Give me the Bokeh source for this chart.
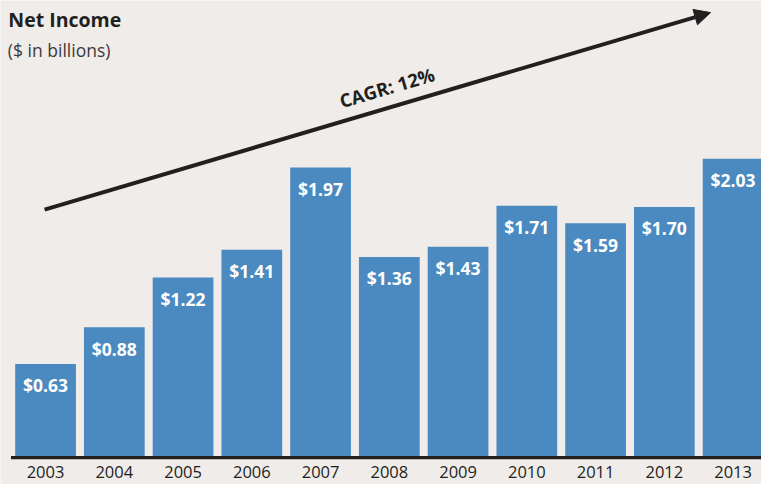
import math
from bokeh.plotting import figure
from bokeh.models import Range1d, Arrow, NormalHead, Label, ColumnDataSource
from bokeh.core.properties import value
from bokeh.embed import file_html
from bokeh.resources import INLINE

# ---- data ----
years = ["2003", "2004", "2005", "2006", "2007", "2008", "2009", "2010", "2011", "2012", "2013"]
net_income = [0.63, 0.88, 1.22, 1.41, 1.97, 1.36, 1.43, 1.71, 1.59, 1.70, 2.03]
value_labels = ["$%.2f" % v for v in net_income]
title_text = "Net Income"
subtitle_text = "($ in billions)"
cagr_text = "CAGR: 12%"

# ---- styles ----
BG = "#f0ece9"
BAR = "#4a8ac0"
DARK = "#231f20"
FONT = "Open Sans"

W, H = 761, 484
REF_W, REF_H = 777.0, 500.0

# reference-pixel helpers (bar pitch 70.2 px, 151.5 px per $1bn, baseline at y=471)
PX_PER_UNIT = 151.5

def dx(px):
    return (px - 46.0) / 70.2

def dy(py):
    return (471.0 - py) / PX_PER_UNIT

idx = list(range(len(years)))
src = ColumnDataSource(dict(
    x=idx, top=net_income, year=years, lab=value_labels,
    lab_y=[v - 22.0 / PX_PER_UNIT for v in net_income],
    year_y=[dy(487.0)] * len(years),
))

p = figure(width=W, height=H,
           x_range=Range1d(dx(0), dx(REF_W)), y_range=Range1d(dy(REF_H), dy(0)),
           output_backend="svg", toolbar_location=None, min_border=0,
           x_axis_location=None, y_axis_location=None,
           background_fill_color=BG, border_fill_color=BG,
           outline_line_color=None)
p.grid.visible = False

p.vbar(x="x", top="top", bottom=0, width=62 / 70.2, source=src,
       fill_color=BAR, line_color=None)

# baseline
p.segment(x0=[dx(10.7)], y0=[dy(472.3)], x1=[dx(800)], y1=[dy(472.3)],
          line_color=DARK, line_width=3.2)

# value labels in bars
p.text(x="x", y="lab_y", text="lab", source=src, text_align="center",
       text_baseline="middle", text_color="white", text_font=value(FONT),
       text_font_size="17.5px", text_font_style="bold")

# year labels
p.text(x="x", y="year_y", text="year", source=src, text_align="center",
       text_baseline="middle", text_color=DARK, text_font=value(FONT),
       text_font_size="16.5px")

# title and subtitle
p.add_layout(Label(x=dx(8), y=dy(19.5), text=title_text, text_font=FONT,
                   text_font_size="19.5px", text_font_style="bold",
                   text_color=DARK, text_baseline="middle", text_align="left"))
p.add_layout(Label(x=dx(7.5), y=dy(51), text=subtitle_text, text_font=FONT,
                   text_font_size="17.5px", text_color="#3a3a3a",
                   text_baseline="middle", text_align="left"))

# CAGR arrow
p.add_layout(Arrow(end=NormalHead(size=16, fill_color=DARK, line_color=DARK, line_width=1),
                   x_start=dx(45), y_start=dy(216), x_end=dx(725), y_end=dy(12.5),
                   line_color=DARK, line_width=4))
ang = math.atan2((216 - 12.5) * (H / REF_H), 680 * (W / REF_W))
p.add_layout(Label(x=dx(394.5), y=dy(89.5), text=cagr_text, text_font=FONT,
                   text_font_size="18.5px", text_font_style="bold", text_color=DARK,
                   angle=ang, text_align="center", text_baseline="middle"))

open("out.html", "w").write(file_html(p, INLINE))
